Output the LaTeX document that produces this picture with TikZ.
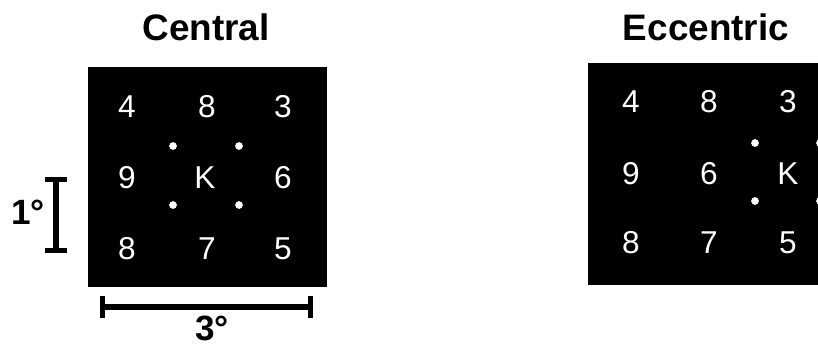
\documentclass[tikz,border=0pt]{standalone}
\usepackage{fontspec}
\setmainfont{Liberation Sans}
\usetikzlibrary{arrows.meta}
\begin{document}
\begin{tikzpicture}
	[x=0.02cm, y=-0.02cm,
	title/.style={font=\fontsize{21}{24}\selectfont\bfseries, text=black},
	letter/.style={font=\fontsize{18}{20}\selectfont, text=white, inner sep=0pt},
	fixdot/.style={circle, fill=white, inner sep=0pt, minimum size=4.4pt},
	scalebar/.style={line width=3pt, {Bar[width=12pt, line width=3pt]}-{Bar[width=12pt, line width=3pt]}},
	unit/.style={font=\fontsize{20}{24}\selectfont\bfseries}]
	
	\useasboundingbox (0,0) rectangle (818,349);
	\clip (0,0) rectangle (818,349);
	
	% central display
	\node[title] (tc) at (206,27) {Central};
	\fill[black] (88,67) rectangle (327,287);
	
	\node[letter] (c4) at (127,107) {4};
	\node[letter] (c8a) at (207,107) {8};
	\node[letter] (c3) at (283,107) {3};
	\node[letter] (c9) at (127,178) {9};
	\node[letter] (ck) at (205,178) {K};
	\node[letter] (c6) at (283,178) {6};
	\node[letter] (c8b) at (127,249) {8};
	\node[letter] (c7) at (207,249) {7};
	\node[letter] (c5) at (283,249) {5};
	
	\node[fixdot] (cd1) at (173,146) {};
	\node[fixdot] (cd2) at (239,146) {};
	\node[fixdot] (cd3) at (173,205) {};
	\node[fixdot] (cd4) at (239,205) {};
	
	% scale bars
	\coordinate (vtop) at (56,177);
	\coordinate (vbot) at (56,253);
	\draw[scalebar] (vtop) -- (vbot);
	\node[unit] (one) at (28,212) {1°};
	
	\coordinate (hleft) at (100,307);
	\coordinate (hright) at (313,307);
	\draw[scalebar] (hleft) -- (hright);
	\node[unit] (three) at (212,328) {3°};
	
	% eccentric display
	\node[title] (te) at (706,27) {Eccentric};
	\fill[black] (588,63) rectangle (840,285);
	
	\node[letter] (e4) at (631,102) {4};
	\node[letter] (e8a) at (709,102) {8};
	\node[letter] (e3) at (788,102) {3};
	\node[letter] (e9) at (631,174) {9};
	\node[letter] (e6) at (709,174) {6};
	\node[letter] (ek) at (788,174) {K};
	\node[letter] (e8b) at (631,243) {8};
	\node[letter] (e7) at (709,243) {7};
	\node[letter] (e5) at (788,243) {5};
	
	\node[fixdot] (ed1) at (755,143) {};
	\node[fixdot] (ed2) at (820,143) {};
	\node[fixdot] (ed3) at (755,201) {};
	\node[fixdot] (ed4) at (820,201) {};
\end{tikzpicture}
\end{document}
